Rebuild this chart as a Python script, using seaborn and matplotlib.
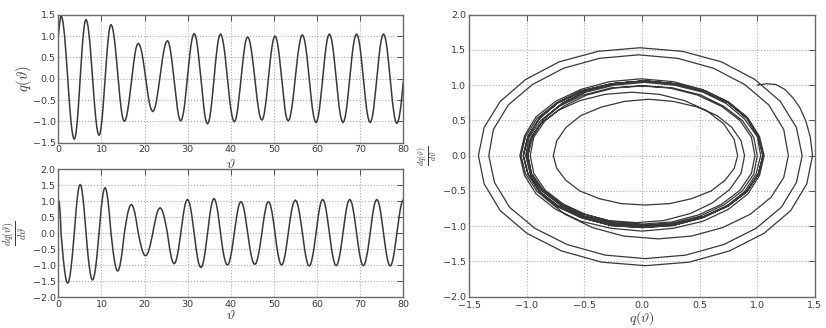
import matplotlib
matplotlib.use("Agg")
import matplotlib.pyplot as plt
import seaborn as sns
import pandas as pd

## Values: theta, q(theta) and dq/dtheta (one row per half swing) ##
theta = [
    0.00, 0.08, 0.16, 0.24, 0.32, 0.40, 0.48, 0.56,
    0.63, 0.89, 1.14, 1.40, 1.65, 1.91, 2.17, 2.42, 2.68, 2.93, 3.19, 3.44,
    3.70, 3.93, 4.15, 4.38, 4.61, 4.83, 5.06, 5.29, 5.51, 5.74, 5.97, 6.19,
    6.42, 6.67, 6.92, 7.17, 7.43, 7.68, 7.93, 8.18, 8.43, 8.69, 8.94, 9.19,
    9.44, 9.67, 9.90, 10.14, 10.37, 10.60, 10.83, 11.06, 11.29, 11.53, 11.76, 11.99,
    12.22, 12.48, 12.73, 12.99, 13.25, 13.50, 13.76, 14.02, 14.27, 14.53, 14.79, 15.04,
    15.30, 15.57, 15.84, 16.11, 16.38, 16.65, 16.93, 17.20, 17.47, 17.74, 18.01, 18.28,
    18.55, 18.83, 19.11, 19.39, 19.67, 19.95, 20.23, 20.50, 20.78, 21.06, 21.34, 21.62,
    21.90, 22.18, 22.47, 22.75, 23.03, 23.32, 23.60, 23.88, 24.17, 24.45, 24.73, 25.02,
    25.30, 25.56, 25.82, 26.08, 26.33, 26.59, 26.85, 27.11, 27.37, 27.63, 27.88, 28.14,
    28.40, 28.66, 28.92, 29.18, 29.43, 29.69, 29.95, 30.21, 30.47, 30.73, 30.98, 31.24,
    31.50, 31.76, 32.02, 32.28, 32.53, 32.79, 33.05, 33.31, 33.57, 33.83, 34.08, 34.34,
    34.60, 34.85, 35.10, 35.35, 35.60, 35.85, 36.10, 36.35, 36.60, 36.85, 37.10, 37.35,
    37.60, 37.87, 38.13, 38.40, 38.67, 38.93, 39.20, 39.47, 39.73, 40.00, 40.27, 40.53,
    40.80, 41.06, 41.32, 41.58, 41.83, 42.09, 42.35, 42.61, 42.87, 43.13, 43.38, 43.64,
    43.90, 44.18, 44.45, 44.73, 45.00, 45.28, 45.55, 45.83, 46.10, 46.38, 46.65, 46.93,
    47.20, 47.45, 47.71, 47.96, 48.22, 48.47, 48.73, 48.98, 49.23, 49.49, 49.74, 50.00,
    50.25, 50.50, 50.76, 51.01, 51.27, 51.52, 51.78, 52.03, 52.28, 52.54, 52.79, 53.05,
    53.30, 53.58, 53.85, 54.13, 54.40, 54.68, 54.95, 55.23, 55.50, 55.78, 56.05, 56.33,
    56.60, 56.86, 57.13, 57.39, 57.65, 57.91, 58.18, 58.44, 58.70, 58.96, 59.23, 59.49,
    59.75, 60.01, 60.27, 60.53, 60.78, 61.04, 61.30, 61.56, 61.82, 62.08, 62.33, 62.59,
    62.85, 63.11, 63.38, 63.64, 63.90, 64.16, 64.43, 64.69, 64.95, 65.21, 65.48, 65.74,
    66.00, 66.26, 66.53, 66.79, 67.05, 67.31, 67.58, 67.84, 68.10, 68.36, 68.63, 68.89,
    69.15, 69.41, 69.68, 69.94, 70.20, 70.46, 70.73, 70.99, 71.25, 71.51, 71.78, 72.04,
    72.30, 72.56, 72.82, 73.08, 73.33, 73.59, 73.85, 74.11, 74.37, 74.63, 74.88, 75.14,
    75.40, 75.66, 75.92, 76.18, 76.43, 76.69, 76.95, 77.21, 77.47, 77.73, 77.98, 78.24,
    78.50, 78.76, 79.03, 79.29, 79.55, 79.81, 80.00,
]
q = [
    1.00, 1.08, 1.16, 1.24, 1.31, 1.37, 1.42, 1.46,
    1.48, 1.43, 1.29, 1.06, 0.76, 0.41, 0.03, -0.35, -0.70, -1.00, -1.23, -1.37,
    -1.42, -1.37, -1.23, -1.01, -0.72, -0.38, -0.02, 0.35, 0.69, 0.98, 1.20, 1.34,
    1.39, 1.34, 1.21, 0.99, 0.71, 0.38, 0.03, -0.32, -0.65, -0.93, -1.15, -1.28,
    -1.33, -1.29, -1.16, -0.95, -0.68, -0.37, -0.03, 0.31, 0.62, 0.89, 1.10, 1.23,
    1.27, 1.23, 1.12, 0.94, 0.70, 0.43, 0.14, -0.16, -0.43, -0.67, -0.85, -0.96,
    -1.00, -0.97, -0.88, -0.73, -0.54, -0.32, -0.09, 0.15, 0.37, 0.56, 0.71, 0.80,
    0.83, 0.80, 0.72, 0.60, 0.43, 0.24, 0.03, -0.18, -0.37, -0.54, -0.66, -0.74,
    -0.77, -0.74, -0.66, -0.53, -0.35, -0.15, 0.06, 0.27, 0.48, 0.65, 0.78, 0.86,
    0.89, 0.86, 0.76, 0.61, 0.42, 0.19, -0.05, -0.29, -0.52, -0.71, -0.86, -0.96,
    -0.99, -0.95, -0.85, -0.69, -0.48, -0.23, 0.04, 0.30, 0.55, 0.76, 0.92, 1.02,
    1.06, 1.02, 0.92, 0.75, 0.53, 0.27, 0.00, -0.27, -0.53, -0.75, -0.92, -1.02,
    -1.06, -1.02, -0.92, -0.75, -0.53, -0.28, -0.01, 0.27, 0.52, 0.74, 0.91, 1.01,
    1.05, 1.01, 0.91, 0.75, 0.54, 0.29, 0.02, -0.25, -0.50, -0.71, -0.87, -0.97,
    -1.01, -0.98, -0.88, -0.72, -0.51, -0.27, -0.02, 0.24, 0.48, 0.69, 0.85, 0.95,
    0.98, 0.95, 0.85, 0.69, 0.49, 0.26, 0.01, -0.25, -0.48, -0.68, -0.84, -0.94,
    -0.97, -0.94, -0.84, -0.68, -0.48, -0.24, 0.02, 0.27, 0.51, 0.71, 0.87, 0.97,
    1.00, 0.97, 0.87, 0.71, 0.50, 0.26, 0.01, -0.25, -0.49, -0.70, -0.86, -0.96,
    -0.99, -0.96, -0.85, -0.69, -0.49, -0.24, 0.02, 0.28, 0.53, 0.73, 0.89, 1.00,
    1.03, 0.99, 0.89, 0.73, 0.52, 0.27, 0.00, -0.27, -0.52, -0.73, -0.89, -0.99,
    -1.03, -0.99, -0.89, -0.73, -0.51, -0.26, 0.01, 0.28, 0.53, 0.75, 0.91, 1.01,
    1.05, 1.01, 0.91, 0.75, 0.53, 0.28, 0.01, -0.26, -0.51, -0.73, -0.89, -0.99,
    -1.03, -0.99, -0.89, -0.73, -0.51, -0.26, 0.01, 0.28, 0.53, 0.75, 0.91, 1.01,
    1.05, 1.01, 0.91, 0.75, 0.53, 0.28, 0.01, -0.26, -0.51, -0.73, -0.89, -0.99,
    -1.03, -0.99, -0.89, -0.73, -0.51, -0.26, 0.01, 0.28, 0.53, 0.75, 0.91, 1.01,
    1.05, 1.01, 0.91, 0.74, 0.53, 0.27, 0.00, -0.27, -0.53, -0.74, -0.91, -1.01,
    -1.05, -1.01, -0.91, -0.74, -0.53, -0.27, -0.06,
]
dq = [
    1.00, 1.02, 1.01, 0.94, 0.82, 0.68, 0.50, 0.27,
    0.00, -0.40, -0.78, -1.10, -1.35, -1.51, -1.56, -1.51, -1.35, -1.10, -0.78, -0.40,
    0.00, 0.40, 0.77, 1.08, 1.33, 1.48, 1.53, 1.48, 1.33, 1.08, 0.77, 0.40,
    0.00, -0.38, -0.73, -1.03, -1.26, -1.41, -1.46, -1.41, -1.26, -1.03, -0.73, -0.38,
    0.00, 0.37, 0.72, 1.01, 1.24, 1.38, 1.43, 1.38, 1.24, 1.01, 0.72, 0.37,
    0.00, -0.31, -0.59, -0.83, -1.02, -1.14, -1.18, -1.14, -1.02, -0.83, -0.59, -0.31,
    0.00, 0.23, 0.45, 0.64, 0.78, 0.87, 0.90, 0.87, 0.78, 0.64, 0.45, 0.23,
    0.00, -0.18, -0.35, -0.50, -0.61, -0.68, -0.70, -0.68, -0.61, -0.50, -0.35, -0.18,
    0.00, 0.21, 0.40, 0.57, 0.69, 0.77, 0.80, 0.77, 0.69, 0.57, 0.40, 0.21,
    0.00, -0.25, -0.48, -0.67, -0.82, -0.92, -0.95, -0.92, -0.82, -0.67, -0.48, -0.25,
    0.00, 0.27, 0.53, 0.75, 0.92, 1.02, 1.06, 1.02, 0.92, 0.75, 0.53, 0.27,
    0.00, -0.28, -0.54, -0.76, -0.93, -1.03, -1.07, -1.03, -0.93, -0.76, -0.54, -0.28,
    0.00, 0.28, 0.55, 0.77, 0.94, 1.05, 1.09, 1.05, 0.94, 0.77, 0.55, 0.28,
    0.00, -0.26, -0.50, -0.70, -0.86, -0.96, -0.99, -0.96, -0.86, -0.70, -0.50, -0.26,
    0.00, 0.26, 0.50, 0.70, 0.86, 0.96, 0.99, 0.96, 0.86, 0.70, 0.50, 0.26,
    0.00, -0.25, -0.49, -0.69, -0.84, -0.94, -0.97, -0.94, -0.84, -0.69, -0.49, -0.25,
    0.00, 0.26, 0.50, 0.70, 0.86, 0.96, 0.99, 0.96, 0.86, 0.70, 0.50, 0.26,
    0.00, -0.26, -0.50, -0.70, -0.86, -0.96, -0.99, -0.96, -0.86, -0.70, -0.50, -0.26,
    0.00, 0.27, 0.52, 0.74, 0.90, 1.00, 1.04, 1.00, 0.90, 0.74, 0.52, 0.27,
    0.00, -0.26, -0.51, -0.72, -0.88, -0.99, -1.02, -0.99, -0.88, -0.72, -0.51, -0.26,
    0.00, 0.27, 0.53, 0.75, 0.92, 1.02, 1.06, 1.02, 0.92, 0.75, 0.53, 0.27,
    0.00, -0.26, -0.51, -0.71, -0.87, -0.98, -1.01, -0.98, -0.87, -0.71, -0.51, -0.26,
    0.00, 0.27, 0.53, 0.75, 0.92, 1.02, 1.06, 1.02, 0.92, 0.75, 0.53, 0.27,
    0.00, -0.26, -0.51, -0.71, -0.87, -0.98, -1.01, -0.98, -0.87, -0.71, -0.51, -0.26,
    0.00, 0.27, 0.53, 0.75, 0.92, 1.02, 1.06, 1.02, 0.92, 0.75, 0.53, 0.27,
    0.00, -0.26, -0.51, -0.72, -0.88, -0.99, -1.02, -0.99, -0.88, -0.72, -0.51, -0.26,
    0.00, 0.27, 0.53, 0.75, 0.92, 1.02, 1.05,
]

q_ticks = [-1.5, -1.0, -0.5, 0.0, 0.5, 1.0, 1.5]
dq_ticks = [-2.0, -1.5, -1.0, -0.5, 0.0, 0.5, 1.0, 1.5, 2.0]
theta_ticks = [0, 10, 20, 30, 40, 50, 60, 70, 80]

df = pd.DataFrame({"theta": theta, "q": q, "dq": dq})

sns.set_style("white")
plt.rcParams["font.family"] = ["DejaVu Sans"]
plt.rcParams["mathtext.fontset"] = "cm"

line_color = "#383838"
frame_color = "#6a6a6a"
text_color = "#3a3a3a"

fig = plt.figure(figsize=(8.26, 3.28), dpi=100)
ax_q = fig.add_axes([0.0706, 0.565, 0.4177, 0.390])
ax_dq = fig.add_axes([0.0706, 0.0936, 0.4177, 0.390])
ax_ph = fig.add_axes([0.568, 0.0954, 0.4185, 0.860])

sns.lineplot(data=df, x="theta", y="q", ax=ax_q, color=line_color, linewidth=1.1, sort=False, estimator=None)
sns.lineplot(data=df, x="theta", y="dq", ax=ax_dq, color=line_color, linewidth=1.1, sort=False, estimator=None)
sns.lineplot(data=df, x="q", y="dq", ax=ax_ph, color=line_color, linewidth=0.9, sort=False, estimator=None)

## Axis limits and ticks ##
ax_q.set_xlim(0, 80)
ax_q.set_ylim(-1.5, 1.5)
ax_q.set_xticks(theta_ticks)
ax_q.set_yticks(q_ticks)

ax_dq.set_xlim(0, 80)
ax_dq.set_ylim(-2.0, 2.0)
ax_dq.set_xticks(theta_ticks)
ax_dq.set_yticks(dq_ticks)

ax_ph.set_xlim(-1.5, 1.5)
ax_ph.set_ylim(-2.0, 2.0)
ax_ph.set_xticks(q_ticks)
ax_ph.set_yticks(dq_ticks)

## Labels ##
ax_q.set_xlabel(r"$\vartheta$", fontsize=10)
ax_q.set_ylabel(r"$q(\vartheta)$", fontsize=10.5)
ax_dq.set_xlabel(r"$\vartheta$", fontsize=10)
ax_dq.set_ylabel(r"$\frac{dq(\vartheta)}{d\vartheta}$", fontsize=10.5)
ax_ph.set_xlabel(r"$q(\vartheta)$", fontsize=10)
ax_ph.set_ylabel(r"$\frac{dq(\vartheta)}{d\vartheta}$", fontsize=8)

ax_q.xaxis.set_label_coords(0.5, -0.112)
ax_q.yaxis.set_label_coords(-0.07, 0.5)
ax_dq.xaxis.set_label_coords(0.5, -0.084)
ax_dq.yaxis.set_label_coords(-0.084, 0.5)
ax_ph.xaxis.set_label_coords(0.5, -0.046)
ax_ph.yaxis.set_label_coords(-0.085, 0.5)

for ax in (ax_q, ax_dq, ax_ph):
    ax.grid(True, linestyle=":", color="#aaaaaa", linewidth=0.8)
    ax.tick_params(axis="both", which="both", direction="in", length=4, width=0.6,
                   top=True, right=True, labelsize=6.8, colors=text_color, pad=2)
    for side in ax.spines.values():
        side.set_color(frame_color)
        side.set_linewidth(1.0)
    ax.xaxis.label.set_color(text_color)
    ax.yaxis.label.set_color(text_color)
ax_ph.tick_params(axis="x", pad=3)

fig.savefig("out.png", dpi=100)
